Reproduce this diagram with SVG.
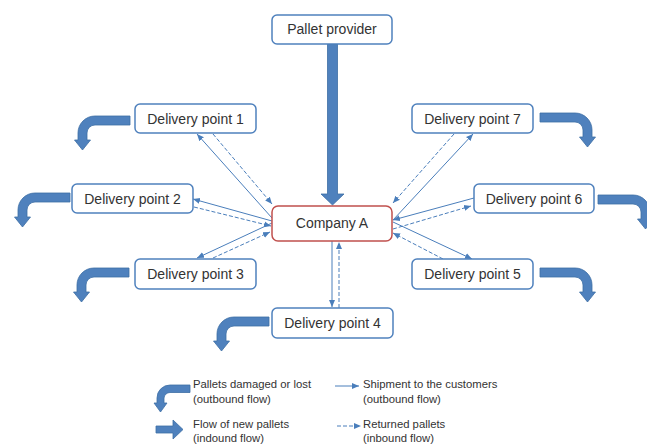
<svg xmlns="http://www.w3.org/2000/svg" width="647" height="446" viewBox="0 0 647 446">
  <style>
    .box { fill: #ffffff; stroke: #4f81bd; stroke-width: 1.5; }
    .hub { fill: #ffffff; stroke: #c0504d; stroke-width: 1.5; }
    .lbl { font-family: "Liberation Sans", Arial, sans-serif; font-size: 14px; fill: #333333; text-anchor: middle; }
    .leg { font-family: "Liberation Sans", Arial, sans-serif; font-size: 11.3px; fill: #333333; }
    .fat { fill: #4f81bd; stroke: #3e6ea5; stroke-width: 0.8; }
    .ship { fill: none; stroke: #4a7ebb; stroke-width: 1; }
    .ret { fill: none; stroke: #4a7ebb; stroke-width: 1; stroke-dasharray: 4 2; }
  </style>
  <defs>
    <marker id="ah" markerUnits="userSpaceOnUse" markerWidth="8" markerHeight="8" viewBox="0 0 8 8" refX="7" refY="4" orient="auto">
      <path d="M0,1 L7,4 L0,7 Z" fill="#4a7ebb"/>
    </marker>
    <!-- bent arrow: outer corner at origin, shaft runs right, head points down -->
    <path id="bend" d="M52,0 L17,0 A17,17 0 0 0 0,17 L0,24 L-3.5,24 L4.5,34 L12.5,24 L9,24 L9,17 A8,8 0 0 1 17,9 L52,9 Z"/>
  </defs>

  <!-- connectors -->
  <g id="connectors">
    <!-- supply from the pallet provider -->
    <path class="fat" d="M327.5,44 L337.5,44 L337.5,194 L344,194 L332.5,205 L321,194 L327.5,194 Z"/>

    <!-- Delivery point 1 -->
    <line class="ship" x1="272" y1="218" x2="197" y2="134" marker-end="url(#ah)"/>
    <line class="ret" x1="213" y1="134" x2="272" y2="204" marker-end="url(#ah)"/>
    <!-- Delivery point 2 -->
    <line class="ship" x1="272" y1="221" x2="193" y2="199" marker-end="url(#ah)"/>
    <line class="ret" x1="194" y1="207" x2="271" y2="226" marker-end="url(#ah)"/>
    <!-- Delivery point 3 -->
    <line class="ship" x1="272" y1="223" x2="197" y2="258" marker-end="url(#ah)"/>
    <line class="ret" x1="213" y1="258" x2="270" y2="232" marker-end="url(#ah)"/>
    <!-- Delivery point 4 -->
    <line class="ship" x1="332" y1="241" x2="332" y2="307" marker-end="url(#ah)"/>
    <line class="ret" x1="339" y1="308" x2="339" y2="242" marker-end="url(#ah)"/>
    <!-- Delivery point 5 -->
    <line class="ship" x1="393" y1="222" x2="472" y2="259" marker-end="url(#ah)"/>
    <line class="ret" x1="443" y1="259" x2="393" y2="233" marker-end="url(#ah)"/>
    <!-- Delivery point 6 -->
    <line class="ship" x1="474" y1="198" x2="393" y2="220" marker-end="url(#ah)"/>
    <line class="ret" x1="393" y1="229" x2="471" y2="206" marker-end="url(#ah)"/>
    <!-- Delivery point 7 -->
    <line class="ship" x1="393" y1="220" x2="473" y2="134" marker-end="url(#ah)"/>
    <line class="ret" x1="454" y1="134" x2="393" y2="203" marker-end="url(#ah)"/>

    <!-- damaged / lost outflows -->
    <use href="#bend" class="fat" transform="translate(78,116)"/>
    <use href="#bend" class="fat" transform="translate(18,193)"/>
    <use href="#bend" class="fat" transform="translate(77,268)"/>
    <use href="#bend" class="fat" transform="translate(217,317)"/>
    <use href="#bend" class="fat" transform="translate(592,113) scale(-1,1)"/>
    <use href="#bend" class="fat" transform="translate(650,195) scale(-1,1)"/>
    <use href="#bend" class="fat" transform="translate(592,268) scale(-1,1)"/>
  </g>

  <!-- nodes -->
  <g id="provider">
    <rect class="box" x="272" y="15" width="120" height="29" rx="5"/>
    <text class="lbl" x="332" y="34">Pallet provider</text>
  </g>
  <g id="company-a">
    <rect class="hub" x="272" y="206" width="120" height="35" rx="6"/>
    <text class="lbl" x="332" y="228">Company A</text>
  </g>
  <g id="dp1">
    <rect class="box" x="135" y="104" width="121" height="29" rx="5"/>
    <text class="lbl" x="195.5" y="123.5">Delivery point 1</text>
  </g>
  <g id="dp2">
    <rect class="box" x="72" y="184" width="121" height="29" rx="5"/>
    <text class="lbl" x="132.5" y="203.5">Delivery point 2</text>
  </g>
  <g id="dp3">
    <rect class="box" x="135" y="259" width="121" height="30" rx="5"/>
    <text class="lbl" x="195.5" y="279">Delivery point 3</text>
  </g>
  <g id="dp4">
    <rect class="box" x="272" y="308" width="121" height="30" rx="5"/>
    <text class="lbl" x="332.5" y="328">Delivery point 4</text>
  </g>
  <g id="dp5">
    <rect class="box" x="412" y="259" width="121" height="30" rx="5"/>
    <text class="lbl" x="472.5" y="279">Delivery point 5</text>
  </g>
  <g id="dp6">
    <rect class="box" x="474" y="184" width="120" height="29" rx="5"/>
    <text class="lbl" x="534" y="203.5">Delivery point 6</text>
  </g>
  <g id="dp7">
    <rect class="box" x="412" y="104" width="121" height="29" rx="5"/>
    <text class="lbl" x="472.5" y="123.5">Delivery point 7</text>
  </g>

  <!-- legend -->
  <g id="legend">
    <path class="fat" d="M190,385 L170,385 A13,13 0 0 0 157,398 L157,403 L154,403 L160.5,412 L167,403 L164,403 L164,398 A6,6 0 0 1 170,392.5 L190,392.5 Z"/>
    <text class="leg" x="193" y="388">Pallets damaged or lost</text>
    <text class="leg" x="193" y="403">(outbound flow)</text>
    <path class="fat" d="M156,426 L173,426 L173,420 L183,429.5 L173,439 L173,433 L156,433 Z"/>
    <text class="leg" x="193" y="428">Flow of new pallets</text>
    <text class="leg" x="193" y="442">(indound flow)</text>

    <line class="ship" x1="335" y1="386" x2="359" y2="386" marker-end="url(#ah)"/>
    <text class="leg" x="363" y="388">Shipment to the customers</text>
    <text class="leg" x="363" y="403">(outbound flow)</text>
    <line class="ret" x1="337" y1="426" x2="361" y2="426" marker-end="url(#ah)"/>
    <text class="leg" x="363" y="428">Returned pallets</text>
    <text class="leg" x="363" y="442">(inbound flow)</text>
  </g>
</svg>
